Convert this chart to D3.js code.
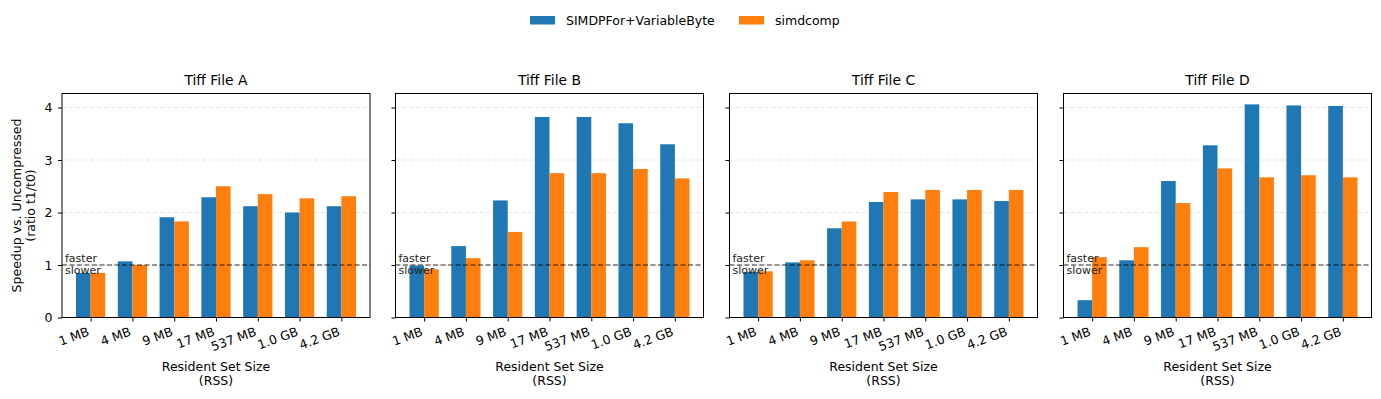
<!DOCTYPE html>
<html>
<head>
<meta charset="utf-8">
<script src="https://cdn.jsdelivr.net/npm/d3@7"></script>
<style>
  body { margin: 0; background: #fff; }
  svg { font-family: "DejaVu Sans", sans-serif; }
</style>
</head>
<body>
<svg id="chart" width="1381" height="399"></svg>
<script>
// Categories (resident set size) and panel titles
const sizes = ['1 MB', '4 MB', '9 MB', '17 MB', '537 MB', '1.0 GB', '4.2 GB'];
const files = ['Tiff File A', 'Tiff File B', 'Tiff File C', 'Tiff File D'];
const seriesNames = ['SIMDPFor+VariableByte', 'simdcomp'];
const yTicks = [0, 1, 2, 3, 4];

// speedups, one row per file
const simdpfor = [
  [0.85, 1.07, 1.91, 2.29, 2.12, 2.00, 2.12],
  [0.99, 1.36, 2.23, 3.82, 3.82, 3.70, 3.30],
  [0.87, 1.05, 1.70, 2.20, 2.25, 2.25, 2.22],
  [0.33, 1.09, 2.60, 3.28, 4.06, 4.04, 4.03]
];
const simdcomp = [
  [0.85, 1.00, 1.83, 2.50, 2.35, 2.27, 2.31],
  [0.92, 1.13, 1.63, 2.75, 2.75, 2.83, 2.65],
  [0.88, 1.09, 1.83, 2.39, 2.43, 2.43, 2.43],
  [1.15, 1.34, 2.18, 2.84, 2.67, 2.71, 2.67]
];

const colors = ['#1f77b4', '#ff7f0e'];
const svg = d3.select('#chart');

// panel geometry
const panelLeft = [62, 395.5, 729.5, 1063.5];
const panelW = 308;
const plotTop = 93.5, plotBottom = 317.5;
const barW = 0.35;
const fs = 12.5; // base font size

const y = d3.scaleLinear().domain([0, 4.267]).range([plotBottom, plotTop]);

files.forEach((title, p) => {
  const x = d3.scaleLinear().domain([-0.685, 6.685]).range([panelLeft[p], panelLeft[p] + panelW]);
  const g = svg.append('g');

  // grid lines
  g.selectAll('.grid')
    .data(yTicks.slice(1))
    .join('line')
    .attr('x1', panelLeft[p]).attr('x2', panelLeft[p] + panelW)
    .attr('y1', d => y(d)).attr('y2', d => y(d))
    .attr('stroke', '#b0b0b0').attr('stroke-opacity', 0.45)
    .attr('stroke-dasharray', '4,3').attr('stroke-width', 0.8);

  // bars
  [simdpfor[p], simdcomp[p]].forEach((vals, s) => {
    g.selectAll('.bar' + s)
      .data(vals)
      .join('rect')
      .attr('x', (d, i) => x(i + (s === 0 ? -barW : 0)))
      .attr('width', x(barW) - x(0))
      .attr('y', d => y(d))
      .attr('height', d => y(0) - y(d))
      .attr('fill', colors[s]);
  });

  // reference line at 1
  g.append('line')
    .attr('x1', panelLeft[p]).attr('x2', panelLeft[p] + panelW)
    .attr('y1', y(1)).attr('y2', y(1))
    .attr('stroke', '#000').attr('stroke-opacity', 0.8)
    .attr('stroke-dasharray', '5,2.5').attr('stroke-width', 1);

  g.append('text').attr('x', panelLeft[p] + 3).attr('y', y(1) - 3)
    .attr('font-size', 11).attr('fill', '#222').text('faster');
  g.append('text').attr('x', panelLeft[p] + 3).attr('y', y(1) + 8.5)
    .attr('font-size', 11).attr('fill', '#222').text('slower');

  // frame
  g.append('rect')
    .attr('x', panelLeft[p]).attr('y', plotTop)
    .attr('width', panelW).attr('height', plotBottom - plotTop)
    .attr('fill', 'none').attr('stroke', '#000').attr('stroke-width', 1);

  // x axis
  const xAxis = g.append('g')
    .attr('transform', `translate(0,${plotBottom})`)
    .call(d3.axisBottom(x).tickValues(d3.range(sizes.length)).tickFormat(i => sizes[i]).tickSize(4).tickSizeOuter(0));
  xAxis.select('.domain').remove();
  xAxis.selectAll('text')
    .attr('font-size', fs).attr('font-family', '"DejaVu Sans", sans-serif').attr('fill', '#000')
    .attr('text-anchor', 'end')
    .attr('y', 0).attr('dy', 0)
    .attr('transform', 'translate(-1,17.5) rotate(-20)');

  // y axis
  const yAxis = g.append('g')
    .attr('transform', `translate(${panelLeft[p]},0)`)
    .call(d3.axisLeft(y).tickValues(yTicks).tickSize(4).tickFormat(p === 0 ? d3.format('d') : () => ''));
  yAxis.select('.domain').remove();
  yAxis.selectAll('text')
    .attr('x', -9.5)
    .attr('font-size', fs).attr('font-family', '"DejaVu Sans", sans-serif').attr('fill', '#000');

  // title
  g.append('text')
    .attr('x', panelLeft[p] + panelW / 2).attr('y', 85)
    .attr('text-anchor', 'middle').attr('font-size', 13.9).text(title);

  // x label
  const xl = g.append('text')
    .attr('x', panelLeft[p] + panelW / 2).attr('y', 371)
    .attr('text-anchor', 'middle').attr('font-size', fs);
  xl.append('tspan').attr('x', panelLeft[p] + panelW / 2).text('Resident Set Size');
  xl.append('tspan').attr('x', panelLeft[p] + panelW / 2).attr('dy', 14).text('(RSS)');
});

// y label
const yl = svg.append('text')
  .attr('transform', `translate(20.5,${(plotTop + plotBottom) / 2}) rotate(-90)`)
  .attr('text-anchor', 'middle').attr('font-size', fs);
yl.append('tspan').attr('x', 0).text('Speedup vs. Uncompressed');
yl.append('tspan').attr('x', 0).attr('dy', 14).text('(ratio t1/t0)');

// legend
const legendX = [530, 739];
seriesNames.forEach((name, s) => {
  svg.append('rect').attr('x', legendX[s]).attr('y', 16)
    .attr('width', 25).attr('height', 8.5).attr('fill', colors[s]);
  svg.append('text').attr('x', legendX[s] + 36).attr('y', 25)
    .attr('font-size', fs).text(name);
});
</script>
</body>
</html>
